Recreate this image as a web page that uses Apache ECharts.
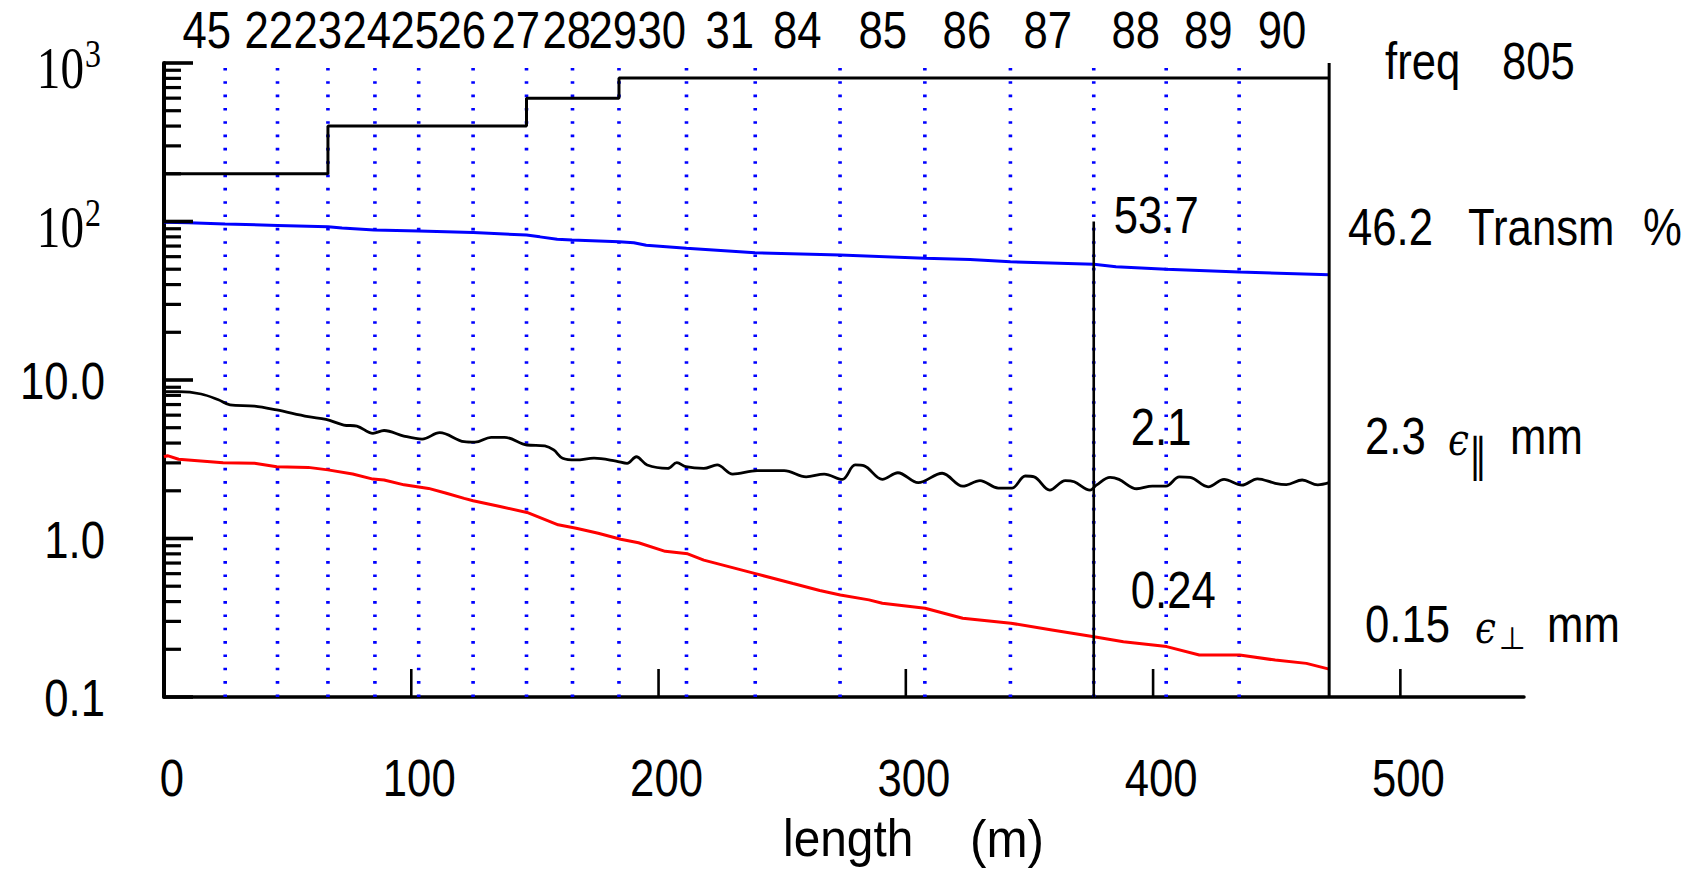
<!DOCTYPE html>
<html>
<head>
<meta charset="utf-8">
<script src="https://cdn.jsdelivr.net/npm/echarts@6/dist/echarts.min.js"></script>
<style>
html,body{margin:0;padding:0;background:#fff;}
#c{width:1690px;height:872px;}
</style>
</head>
<body>
<div id="c"></div>
<script>
// ---------------- data ----------------
const runBoundaries = [24.75, 45.9, 66.3, 85.3, 103.0, 125.0, 146.6, 165.2, 184.0, 211.3, 239.1, 273.4, 307.7, 342.3, 376.0, 405.3, 434.8];
const runLabels = ['45','22','23','24','25','26','27','28','29','30','31','84','85','86','87','88','89','90'];
const runLabelX = [17.3, 42.4, 62.2, 82.0, 101.4, 120.4, 142.3, 162.9, 181.5, 201.3, 228.8, 256.1, 290.7, 324.7, 357.4, 393.0, 422.3, 452.1];

const freqStepX = [0, 66.3, 146.6, 184.0, 471.2];
const freqStepV = [200, 400, 600, 805, 805];

const transmX = [0, 10, 24.7, 46, 66.3, 72, 85, 103, 125, 146.6, 152, 159, 165, 184, 190, 195, 211.3, 239, 273.4, 307.7, 326, 342.3, 376, 385, 405.3, 434.8, 471.2];
const transmV = [99.0, 98.2, 96.4, 94.5, 92.7, 91.0, 88.4, 87.2, 85.1, 82.2, 80.0, 77.2, 76.4, 74.5, 73.5, 70.8, 67.8, 63.5, 61.4, 58.6, 57.5, 55.7, 53.7, 51.8, 49.9, 48.0, 46.2];

const epsParX = [0, 6, 15, 22, 26.7, 36.6, 45.6, 58.3, 65.5, 72.7, 78, 84.5, 89, 97, 104.4, 111.5, 121.4, 125.8, 132.3, 137.7, 146.8, 154, 157.6, 161.2, 166.7, 173.9, 182.8, 187.3, 191, 195.4, 203.7, 207.4, 211, 218.3, 223.7, 230, 239.9, 250.8, 259.7, 267, 274.3, 279.5, 283.2, 290.5, 296.8, 305, 314.7, 323, 330, 337.4, 342.9, 348.3, 351.9, 358.2, 364.5, 368.1, 374.5, 377.2, 382.6, 386.2, 393.4, 399.7, 405.2, 410.6, 415, 422.3, 428.7, 435.9, 442.2, 449.4, 453.9, 460.3, 466.6, 471.2];
const epsParV = [8.44, 8.44, 8.16, 7.5, 6.96, 6.85, 6.47, 5.87, 5.65, 5.20, 5.12, 4.61, 4.80, 4.43, 4.24, 4.65, 4.08, 4.05, 4.35, 4.35, 3.89, 3.84, 3.62, 3.21, 3.13, 3.21, 3.08, 2.98, 3.28, 2.91, 2.77, 3.01, 2.84, 2.77, 2.91, 2.55, 2.68, 2.68, 2.45, 2.55, 2.36, 2.91, 2.87, 2.36, 2.60, 2.25, 2.58, 2.14, 2.32, 2.08, 2.08, 2.48, 2.45, 2.02, 2.32, 2.28, 2.02, 2.18, 2.43, 2.36, 2.06, 2.14, 2.14, 2.45, 2.43, 2.12, 2.36, 2.17, 2.38, 2.23, 2.19, 2.34, 2.18, 2.25];

const epsPerpX = [0, 1.4, 5.9, 23.9, 36.6, 45.6, 58.3, 66.3, 76.3, 84.5, 89, 97.1, 107, 114.2, 121.4, 125, 135.9, 146.8, 159.4, 166.7, 175.6, 184.7, 191.9, 202.7, 211.8, 218.3, 239.2, 254.4, 265.2, 273.5, 285.1, 290.5, 307.8, 323, 342.5, 359.1, 376.1, 388, 405.5, 418.7, 435, 449.4, 462, 471.2];
const epsPerpV = [3.28, 3.33, 3.16, 3.01, 2.98, 2.84, 2.81, 2.71, 2.55, 2.37, 2.34, 2.18, 2.07, 1.93, 1.79, 1.73, 1.59, 1.46, 1.22, 1.16, 1.08, 0.99, 0.94, 0.83, 0.80, 0.73, 0.60, 0.52, 0.47, 0.44, 0.41, 0.39, 0.363, 0.314, 0.292, 0.265, 0.24, 0.223, 0.208, 0.184, 0.184, 0.171, 0.163, 0.15];

const cursorX = 376.0;
const cursorTop = 100;
const endX = 471.2;
const cursorLabels = ['53.7', '2.1', '0.24'];
const endLabels = ['46.2', '2.3', '0.15'];
const freqTotal = '805';

const xTickLabels = [0, 100, 200, 300, 400, 500];
const xTickMarks = [100, 200, 300, 400, 500];
const yDecades = [0.1, 1, 10, 100, 1000];
const yMinorMult = [2, 3, 4, 5, 6, 7, 8, 9];

// ---------------- helpers ----------------
const zip = (xs, vs) => xs.map((x, i) => [x, vs[i]]);
const yMinor = [];
yDecades.slice(0, -1).forEach(d => yMinorMult.forEach(m => yMinor.push(+(d * m).toPrecision(3))));

const SANS = "'Liberation Sans', Arial, sans-serif";
const SERIF = "'Liberation Serif', 'Times New Roman', serif";
const FS = 52, SX = 0.84;

function txt(s, x, y, align, o) {
  o = o || {};
  return {
    type: 'text', x: x, y: y, scaleX: o.sx != null ? o.sx : SX, silent: true, z: 100,
    style: {
      text: s, fontSize: o.fs || FS, fontFamily: o.ff || SANS, fontStyle: o.fst || 'normal',
      fill: '#000', textAlign: align, textVerticalAlign: 'middle', align: align, verticalAlign: 'middle'
    }
  };
}

function vLineSeries(name, xs, yFrom, yTo, style, z) {
  return {
    type: 'custom', name: name, z: z, clip: false, silent: true,
    data: xs.map(x => [x, yFrom, yTo]),
    renderItem: function (params, api) {
      const p0 = api.coord([api.value(0), api.value(1)]);
      const p1 = api.coord([api.value(0), api.value(2)]);
      return { type: 'line', shape: { x1: p0[0], y1: p0[1], x2: p1[0], y2: p1[1] }, style: style };
    }
  };
}

function yTickSeries(values, len, width) {
  return {
    type: 'custom', z: 6, clip: false, silent: true,
    data: values.map(v => [0, v]),
    renderItem: function (params, api) {
      const p = api.coord([0, api.value(1)]);
      return { type: 'line', shape: { x1: p[0], y1: p[1], x2: p[0] + len, y2: p[1] },
        style: { stroke: '#000', lineWidth: width, lineCap: 'butt' } };
    }
  };
}

function xTickSeries(values, len, width) {
  return {
    type: 'custom', z: 6, clip: false, silent: true,
    data: values.map(v => [v, 0.1]),
    renderItem: function (params, api) {
      const p = api.coord([api.value(0), 0.1]);
      return { type: 'line', shape: { x1: p[0], y1: p[1], x2: p[0], y2: p[1] - len },
        style: { stroke: '#000', lineWidth: width, lineCap: 'butt' } };
    }
  };
}

const chart = echarts.init(document.getElementById('c'), null, { renderer: 'svg' });

const option = {
  animation: false,
  backgroundColor: '#ffffff',
  grid: { left: 164, top: 63, width: 1360, height: 634, containLabel: false },
  xAxis: {
    type: 'value', min: 0, max: 550, interval: 50,
    axisLine: { show: true, onZero: false, lineStyle: { color: '#000', width: 3.5 } },
    axisTick: { show: false }, axisLabel: { show: false }, splitLine: { show: false }
  },
  yAxis: {
    type: 'log', logBase: 10, min: 0.1, max: 1000,
    axisLine: { show: true, onZero: false, lineStyle: { color: '#000', width: 4 } },
    axisTick: { show: false }, axisLabel: { show: false }, splitLine: { show: false },
    minorTick: { show: false }, minorSplitLine: { show: false }
  },
  series: [
    vLineSeries('runs', runBoundaries, 0.1, 1000,
      { stroke: '#0000ff', lineWidth: 3.6, lineDash: [2.6, 10.73], lineCap: 'butt' }, 1),
    {
      type: 'line', name: 'freq', step: 'end', data: zip(freqStepX, freqStepV), z: 3,
      showSymbol: false, symbol: 'none', lineStyle: { color: '#000', width: 3 }, silent: true
    },
    {
      type: 'line', name: 'Transm', data: zip(transmX, transmV), z: 3,
      showSymbol: false, symbol: 'none', lineStyle: { color: '#0000ff', width: 3 }, silent: true
    },
    {
      type: 'line', name: 'eps_par', data: zip(epsParX, epsParV), z: 3, smooth: 0.35,
      showSymbol: false, symbol: 'none', lineStyle: { color: '#000', width: 2.8 }, silent: true
    },
    {
      type: 'line', name: 'eps_perp', data: zip(epsPerpX, epsPerpV), z: 3,
      showSymbol: false, symbol: 'none', lineStyle: { color: '#ff0000', width: 3 }, silent: true
    },
    vLineSeries('cursor', [cursorX], 0.1, cursorTop, { stroke: '#000', lineWidth: 2.6 }, 4),
    vLineSeries('end', [endX], 0.1, 1000, { stroke: '#000', lineWidth: 3 }, 4),
    yTickSeries(yDecades, 29, 3.6),
    yTickSeries(yMinor, 17, 3.2),
    xTickSeries(xTickMarks, 28, 2.6)
  ]
};
chart.setOption(option);

const px = v => chart.convertToPixel({ xAxisIndex: 0 }, v);
const py = v => chart.convertToPixel({ yAxisIndex: 0 }, v);

const g = [];
// run numbers on top
runLabels.forEach((s, i) => g.push(txt(s, px(runLabelX[i]), 30, 'center')));
// x tick labels
xTickLabels.forEach(v => g.push(txt(String(v), px(v) + 8, py(0.1) + 81.5, 'center')));
// y tick labels
yDecades.forEach(v => {
  const y = py(v);
  if (v >= 100) {
    g.push(txt('10', 84, y + 5.6, 'right', { ff: SERIF, fs: 59, sx: 0.8 }));
    g.push(txt(String(Math.round(Math.log10(v))), 85, y - 9, 'left', { ff: SERIF, fs: 39, sx: 0.82 }));
  } else {
    g.push(txt(v.toFixed(1), 105, y + 1.5, 'right'));
  }
});
// axis title
g.push(txt('length', 783, 838.7, 'left', { sx: 0.92 }));
g.push(txt('(m)', 970, 838.7, 'left', { sx: 0.95 }));
// cursor values
const cx = px(cursorX);
g.push(txt(cursorLabels[0], cx + 20, 215, 'left'));
g.push(txt(cursorLabels[1], cx + 37, 427.5, 'left'));
g.push(txt(cursorLabels[2], cx + 37, 590, 'left'));
// end values / legends
g.push(txt('freq', 1385, 61.3, 'left'));
g.push(txt(freqTotal, 1502, 61.3, 'left'));
g.push(txt(endLabels[0], 1348, 227.5, 'left'));
g.push(txt('Transm', 1468, 227.5, 'left'));
g.push(txt('%', 1643, 227.5, 'left'));
g.push(txt(endLabels[1], 1365, 436, 'left'));
g.push(txt('\u03F5', 1448, 439.5, 'left', { ff: "'DejaVu Serif', serif", fs: 44, fst: 'italic', sx: 0.85 }));
g.push(txt('\u2225', 1478, 455, 'center', { ff: "'DejaVu Sans', sans-serif", fs: 46, sx: 0.8 }));
g.push(txt('mm', 1510, 436, 'left'));
g.push(txt(endLabels[2], 1365, 624.5, 'left'));
g.push(txt('\u03F5', 1475, 628.2, 'left', { ff: "'DejaVu Serif', serif", fs: 44, fst: 'italic', sx: 0.85 }));
g.push(txt('\u22A5', 1512, 638, 'center', { ff: "'DejaVu Sans', sans-serif", fs: 31, sx: 1 }));
g.push(txt('mm', 1547, 624.5, 'left'));

chart.setOption({ graphic: { elements: g } });
</script>
</body>
</html>
